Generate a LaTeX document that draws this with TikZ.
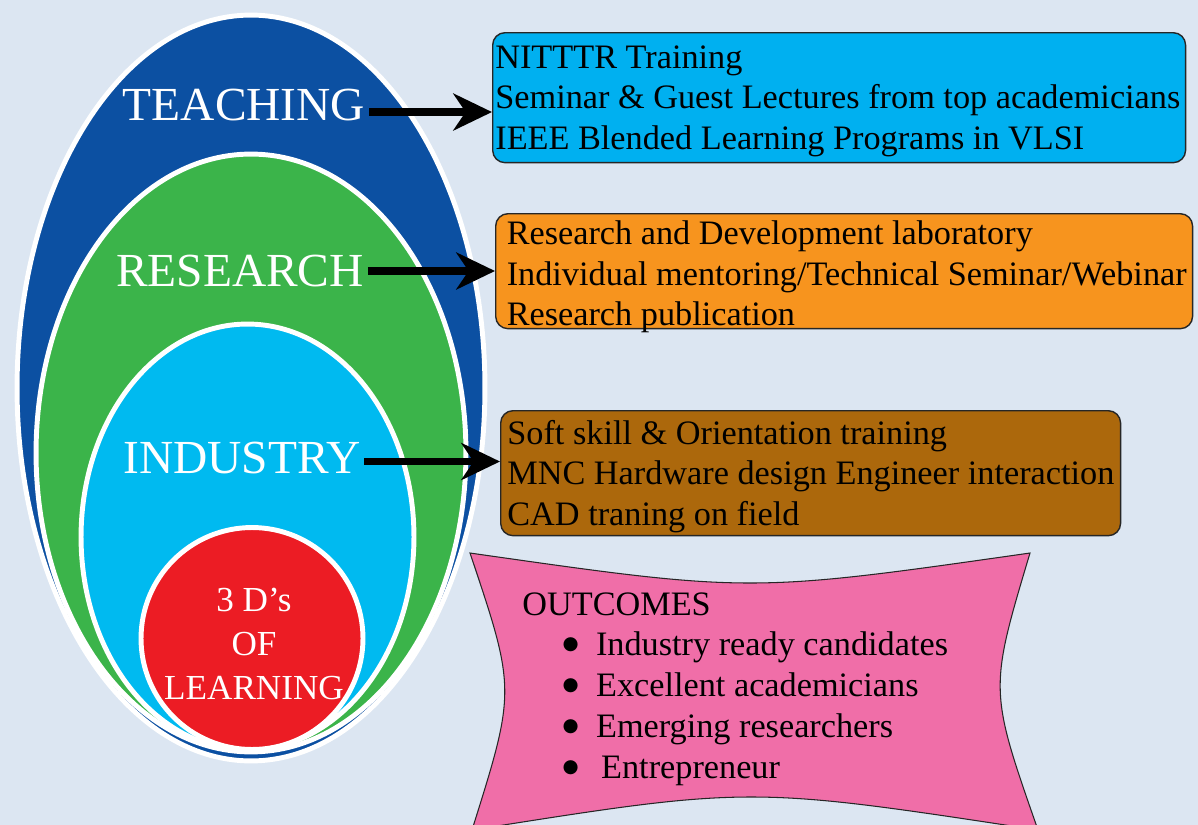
\documentclass[tikz,border=0pt]{standalone}
\usepackage{fontspec}
\setmainfont{Liberation Serif}
\newfontfamily\dotfont{DejaVu Sans}
\usetikzlibrary{arrows.meta}
\usetikzlibrary{positioning}
\definecolor{bgblue}{RGB}{220,230,242}
\definecolor{mblue}{RGB}{12,80,162}
\definecolor{mgreen}{RGB}{59,180,74}
\definecolor{mcyan}{RGB}{0,186,240}
\definecolor{mred}{RGB}{236,28,36}
\definecolor{boxcyan}{RGB}{0,176,240}
\definecolor{boxorange}{RGB}{247,148,30}
\definecolor{boxbrown}{RGB}{172,104,12}
\definecolor{mpink}{RGB}{240,110,168}
\newcommand{\bigbullet}{\raisebox{3.4pt}{\dotfont\fontsize{10.5}{10.5}\selectfont ●}}
\tikzset{ringline/.style = {draw = white, line width = 2.8pt}}
\tikzset{lvl/.style = {text = white, inner sep = 2pt, font = \fontsize{27}{30}\selectfont}}
\tikzset{infobox/.style = {draw = black!85, rounded corners = 7pt, line width = 0.8pt, anchor = north west}}
\tikzset{boxtext/.style = {align = left, inner sep = 0, anchor = west, font = \fontsize{19.5}{23}\selectfont}}
\tikzset{bigarrow/.style = {line width = 4.5pt, -{Stealth[length = 22pt, width = 21pt, inset = 7pt]}}}

\begin{document}
\begin{tikzpicture}[x = 0.02cm, y = -0.02cm]

      \useasboundingbox (0, 0) rectangle (1198, 825);
      \clip (0, 0) rectangle (1198, 825);
      \fill [bgblue] (0, 0) rectangle (1198, 825);

      \filldraw [ringline, fill = mblue] (251, 388) ellipse [x radius = 4.68cm, y radius = 7.46cm];
      \filldraw [ringline, fill = mgreen] (251, 453) ellipse [x radius = 4.30cm, y radius = 5.98cm];
      \filldraw [ringline, fill = mcyan] (247.5, 537) ellipse [x radius = 3.33cm, y radius = 4.26cm];
      \filldraw [ringline, fill = mred] (252, 638.5) circle [radius = 2.22cm];

      \node [lvl] (teach) at (244, 105) {TEACHING};
      \node [lvl] (resch) at (240, 271) {RESEARCH};
      \node [lvl] (indus) at (242, 458) {INDUSTRY};
      \node [text = white, align = center, font = \fontsize{20}{25}\selectfont] (core) at (254, 644) {3 D’s\\OF\\LEARNING};

      \node [infobox, fill = boxcyan, minimum width = 13.86cm, minimum height = 2.6cm] (tbox) at (492, 32) {};
      \node [infobox, fill = boxorange, minimum width = 13.94cm, minimum height = 2.3cm] (rbox) at (495, 213) {};
      \node [infobox, fill = boxbrown, minimum width = 12.4cm, minimum height = 2.5cm] (ibox) at (500, 410) {};

      \node [boxtext] (ttext) at ([xshift = 1.7pt, yshift = -1.9pt]tbox.west)
        {NITTTR Training\\Seminar \& Guest Lectures from top academicians\\IEEE Blended Learning Programs in VLSI};
      \node [boxtext] (rtext) at ([xshift = 6.5pt, yshift = -3.2pt]rbox.west)
        {Research and Development laboratory\\Individual mentoring/Technical Seminar/Webinar\\Research publication};
      \node [boxtext] (itext) at ([xshift = 4pt, yshift = -1.9pt]ibox.west)
        {Soft skill \& Orientation training\\MNC Hardware design Engineer interaction\\CAD traning on field};

      \draw [bigarrow] ([yshift = -4pt]teach.east) -- ([yshift = -4pt]teach.east -| tbox.west);
      \draw [bigarrow] (resch.east) -- (resch.east -| rbox.west);
      \draw [bigarrow] ([yshift = -2pt]indus.east) -- ([yshift = -2pt]indus.east -| ibox.west);

      \filldraw [fill = mpink, draw = black!85, line width = 0.6pt] (470, 553) .. controls (750, 593) .. (1030, 553)
        .. controls (989, 690) .. (1038, 830) .. controls (750, 786) .. (472, 830) .. controls (516, 690) .. (470, 553) -- cycle;
      \node [anchor = west, align = left, inner sep = 0, font = \fontsize{19.5}{23.2}\selectfont] (outc) at (522, 689)
        {OUTCOMES\\
         \hspace*{22.9pt}\bigbullet\hspace*{9.9pt}Industry ready candidates\\
         \hspace*{22.9pt}\bigbullet\hspace*{9.9pt}Excellent academicians\\
         \hspace*{22.9pt}\bigbullet\hspace*{9.9pt}Emerging researchers\\
         \hspace*{22.9pt}\bigbullet\hspace*{12.8pt}Entrepreneur};

    \end{tikzpicture}
\end{document}
